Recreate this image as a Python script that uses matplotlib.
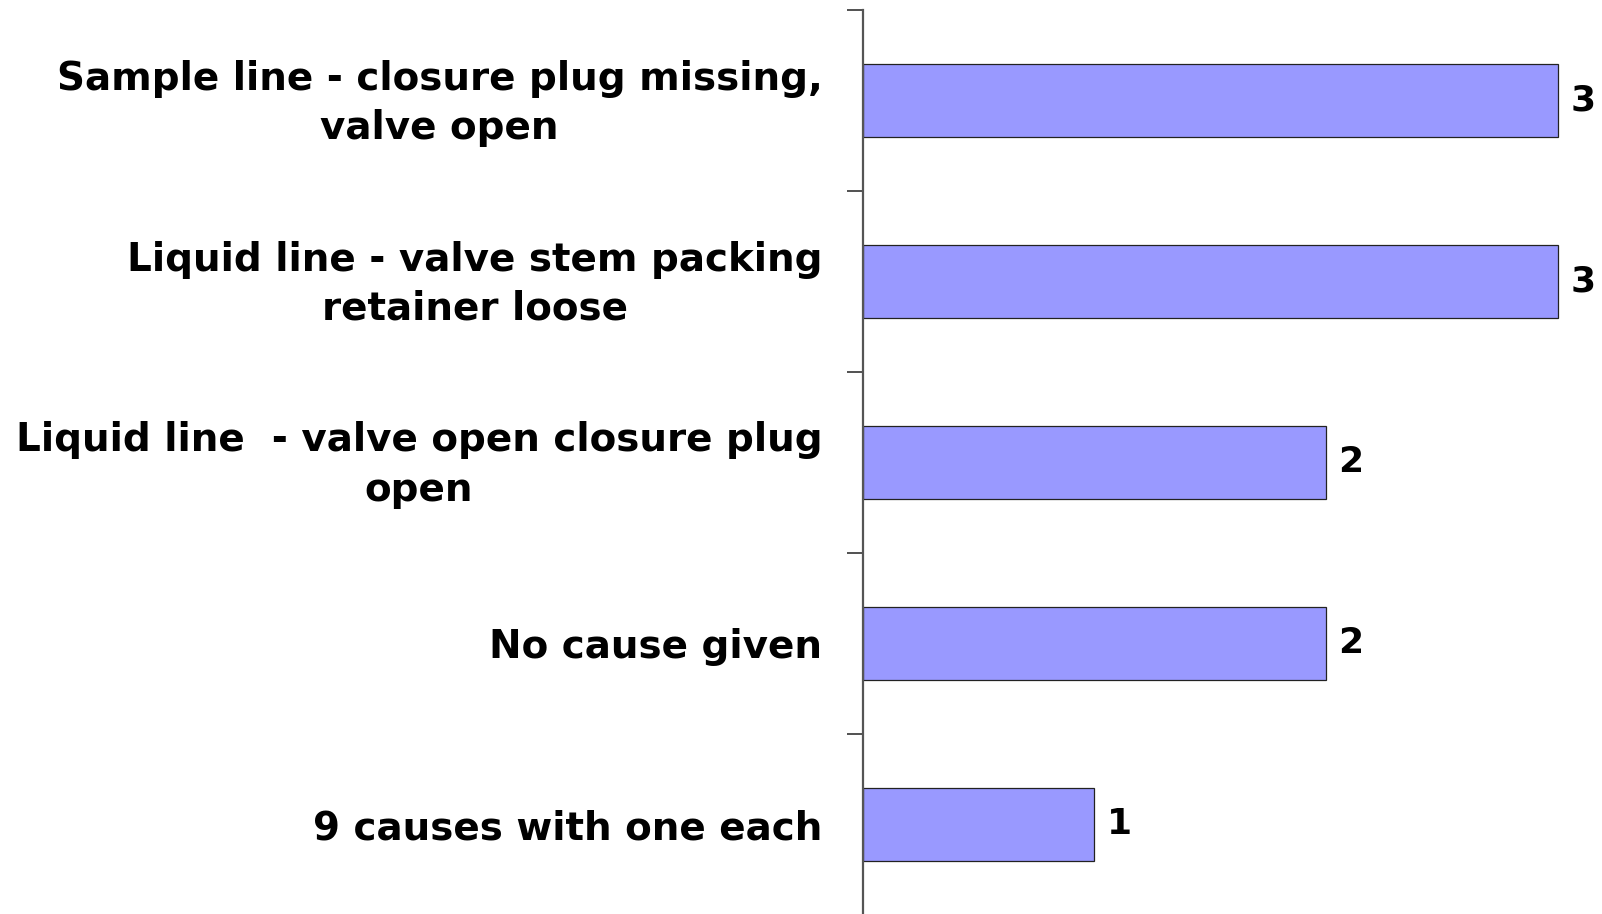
import matplotlib.pyplot as plt
import matplotlib.transforms as mtransforms
import numpy as np

causes = [
    "Sample line - closure plug missing,\nvalve open",
    "Liquid line - valve stem packing\nretainer loose",
    "Liquid line  - valve open closure plug\nopen",
    "No cause given",
    "9 causes with one each",
]
counts = [3, 3, 2, 2, 1]

plt.rcParams["font.family"] = "DejaVu Sans"

fig = plt.figure(figsize=(16.02, 9.14), dpi=100)
ax = fig.add_axes([862.7 / 1602, -0.001, 1 - 862.7 / 1602, 0.99])

y = np.arange(len(causes))
bars = ax.barh(y, counts, height=0.4, color="#9999ff", edgecolor="#222222", linewidth=0.9)
ax.bar_label(bars, padding=9, fontsize=26, fontweight="bold")

ax.set_xlim(0, (1602 - 862.7) / 231.7)
ax.set_ylim(len(causes) - 0.5, -0.5)

# labels at bar centres, tick marks at the category borders
ax.set_yticks(y)
ax.set_yticklabels(causes, fontsize=28, fontweight="bold",
                   multialignment="center", linespacing=1.38)
ax.tick_params(axis="y", which="major", length=0, pad=29)
ax.set_yticks(np.arange(-0.5, len(causes)), minor=True)
ax.tick_params(axis="y", which="minor", length=11.5, width=1.2, color="#333333")

# two-line labels sit a little above the bar centre in the original
shift = mtransforms.ScaledTranslation(0, 0.07, fig.dpi_scale_trans)
for lab in ax.get_yticklabels():
    if "\n" in lab.get_text():
        lab.set_transform(lab.get_transform() + shift)

ax.set_xticks([])
for s in ["top", "right", "bottom"]:
    ax.spines[s].set_visible(False)
ax.spines["left"].set_color("#555555")
ax.spines["left"].set_linewidth(1.6)

fig.savefig("out.png", dpi=100)
